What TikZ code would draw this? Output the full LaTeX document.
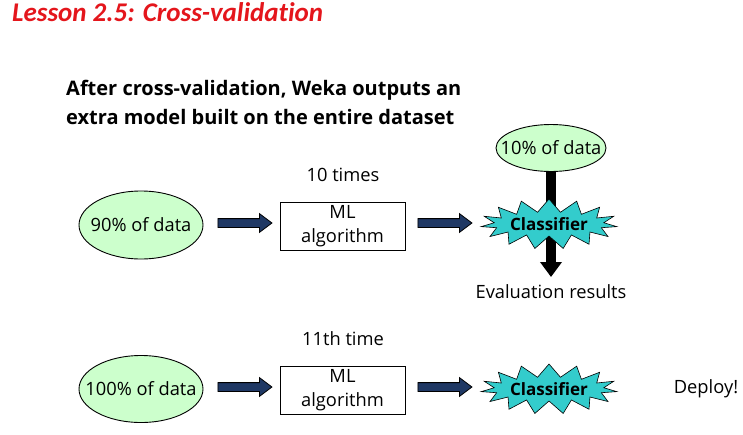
\documentclass[tikz,border=0pt]{standalone}
\usepackage{fontspec}
\setmainfont{Open Sans}
\newfontfamily\titlefont{Carlito}[Ligatures=NoCommon]
\usetikzlibrary{shapes.geometric,shapes.symbols,shapes.arrows,arrows.meta}
\definecolor{titlered}{RGB}{228,22,28}
\definecolor{datagreen}{RGB}{204,255,204}
\definecolor{clsteal}{RGB}{51,204,204}
\definecolor{arrowblue}{RGB}{31,56,100}
\begin{document}
\begin{tikzpicture}[x=1pt,y=-1pt,
  every node/.style={font=\fontsize{18.3}{24}\selectfont},
  dataell/.style={ellipse,draw=black,fill=datagreen,line width=0.9pt,inner sep=0pt},
  mlbox/.style={rectangle,draw=black,fill=white,line width=0.9pt,minimum width=125pt,minimum height=48pt,align=center,inner sep=0pt,font=\fontsize{18.3}{24}\selectfont},
  cls/.style={starburst,starburst points=15,starburst point height=13pt,random starburst=0,draw=black,fill=clsteal,line width=0.6pt,minimum width=124pt,minimum height=50pt,inner sep=0pt,font=\fontsize{17}{24}\selectfont\bfseries},
  blockarrow/.style={single arrow,draw=black,fill=arrowblue,line width=0.8pt,minimum height=54pt,inner sep=4pt,single arrow head extend=5pt,single arrow tip angle=74},
  plain/.style={inner sep=0pt}
]
\useasboundingbox (0,0) rectangle (743,434);
% title
\node[plain,anchor=base west,text=titlered,font=\fontsize{27}{30}\titlefont\bfseries\itshape] (title) at (12,21) {Lesson 2.5: Cross-validation};
\node[plain,anchor=west,align=left,font=\fontsize{20}{29}\selectfont\bfseries] (head) at (66,102.5) {After cross-validation, Weka outputs an\\extra model built on the entire dataset};
% row 1
\node[dataell,minimum width=124pt,minimum height=68pt] (d90) at (141,225) {\makebox[0pt]{90\% of data}};
\node[blockarrow] (a1) at (242,223) {};
\node[mlbox] (ml1) at (342.5,226) {ML\\algorithm};
\node[plain] (t10) at (343,175) {10 times};
\node[blockarrow] (a2) at (442,223) {};
\node[dataell,minimum width=110pt,minimum height=47pt] (d10) at (551,148) {\makebox[0pt]{10\% of data}};
\coordinate (evtip) at (551,277);
\draw[line width=10pt,-{Triangle[width=21pt,length=15pt]}] (d10.south) -- (evtip);
\node[cls] (c1) at (549,224) {Classifier};
\node[plain] (eval) at (551,292) {Evaluation results};
% row 2
\node[plain] (t11) at (343,339) {11th time};
\node[dataell,minimum width=124pt,minimum height=67pt] (d100) at (141,389) {\makebox[0pt]{100\% of data}};
\node[blockarrow] (a3) at (242,387) {};
\node[mlbox] (ml2) at (342.5,390) {ML\\algorithm};
\node[blockarrow] (a4) at (442,387) {};
\node[cls] (c2) at (549,389) {Classifier};
\node[plain] (dep) at (706,389) {Deploy!};
\end{tikzpicture}
\end{document}
